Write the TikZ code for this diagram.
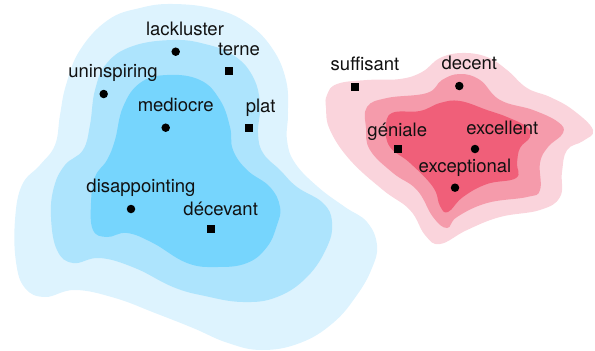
\documentclass[tikz,border=0pt]{standalone}
\usepackage{fontspec}
\setmainfont{TeX Gyre Heros}
\usepackage{tikz}
\definecolor{blueA}{HTML}{DDF3FE}
\definecolor{blueB}{HTML}{ADE4FD}
\definecolor{blueC}{HTML}{76D5FD}
\definecolor{pinkA}{HTML}{FAD4DC}
\definecolor{pinkB}{HTML}{F59BAB}
\definecolor{pinkC}{HTML}{F05F79}
\definecolor{ink}{HTML}{111111}
\begin{document}
\begin{tikzpicture}[x=1pt,y=-1pt,
every node/.style={font=\fontsize{18.5}{18.5}\selectfont,text=ink},
blob/.style={smooth cycle,tension=0.7},
dotpt/.style={circle,fill=black,inner sep=0pt,minimum size=8.5pt},
sqpt/.style={rectangle,fill=black,inner sep=0pt,minimum size=8pt},
lbl/.style={anchor=base,inner sep=0pt}]
\useasboundingbox (0,0) rectangle (595,351);

%blue cluster, outer to inner
\fill[blueA] plot[blob] coordinates {(173,4) (215,9) (247,23) (272,48) (286,80) (288,113) (287,140) (295,163) (318,187) (345,207) (367,222) (377,245) (372,268) (357,295) (333,323) (300,343) (262,350) (228,343) (193,328) (155,313) (115,298) (75,290) (45,297) (25,288) (16,262) (15,220) (22,185) (40,165) (55,145) (60,115) (66,85) (80,50) (108,20) (140,8)};
\fill[blueB] plot[blob] coordinates {(173,40) (205,44) (233,55) (252,75) (260,103) (258,133) (263,153) (280,170) (297,187) (323,203) (332,222) (327,247) (307,277) (277,297) (243,302) (205,296) (173,287) (135,268) (100,258) (73,263) (57,250) (51,217) (54,187) (65,165) (83,150) (90,125) (95,90) (107,63) (133,46)};
\fill[blueC] plot[blob] coordinates {(167,75) (200,80) (220,100) (230,127) (233,150) (247,170) (270,187) (280,207) (277,225) (267,247) (247,263) (217,267) (187,263) (153,243) (127,233) (107,237) (93,230) (91,203) (95,177) (107,160) (115,140) (123,107) (140,83)};

%red cluster, outer to inner
\fill[pinkA] plot[blob] coordinates {(327,95) (337,84) (367,80) (400,79) (422,72) (440,58) (462,53) (487,57) (507,70) (527,88) (550,97) (573,110) (593,130) (583,141) (567,150) (562,172) (560,197) (540,210) (500,217) (467,230) (440,244) (425,235) (410,210) (383,190) (350,160) (330,130) (326,108)};
\fill[pinkB] plot[blob] coordinates {(367,107) (387,98) (427,93) (442,80) (460,74) (480,80) (500,100) (533,110) (558,122) (563,133) (548,147) (540,163) (540,190) (527,197) (487,203) (457,217) (447,228) (433,217) (417,190) (393,173) (370,150) (366,128)};
\fill[pinkC] plot[blob] coordinates {(392,113) (420,111) (440,103) (460,101) (487,110) (507,117) (527,127) (530,137) (520,148) (517,163) (516,178) (487,184) (463,197) (448,212) (440,206) (433,187) (410,163) (390,147) (386,128)};

%words: marker, then its label
\foreach \n/\x/\y/\s/\dx/\dy/\t in {
  lack/175.7/51.7/dotpt/9.3/16.7/lackluster,
  terne/229.3/70.7/sqpt/9.7/15.7/terne,
  unin/103.7/94/dotpt/9.3/17/uninspiring,
  medio/165.7/127.7/dotpt/10/16.7/mediocre,
  plat/249.3/127.7/sqpt/11.4/15/plat,
  disap/131/209/dotpt/10/17/disappointing,
  decev/210.7/229.3/sqpt/10/14.3/décevant,
  suff/355/86.7/sqpt/10/16.7/suffisant,
  decent/459.3/86/dotpt/10/16.7/decent,
  genia/397.7/148.7/sqpt/-0.4/12.7/géniale,
  excel/475/149/dotpt/27.3/15/excellent,
  excep/455/187.7/dotpt/10/15/exceptional}{
  \node[\s] (\n) at (\x,\y) {};
  \node[lbl,xshift=\dx pt,yshift=\dy pt] (l\n) at (\n) {\t};
}
\end{tikzpicture}
\end{document}
